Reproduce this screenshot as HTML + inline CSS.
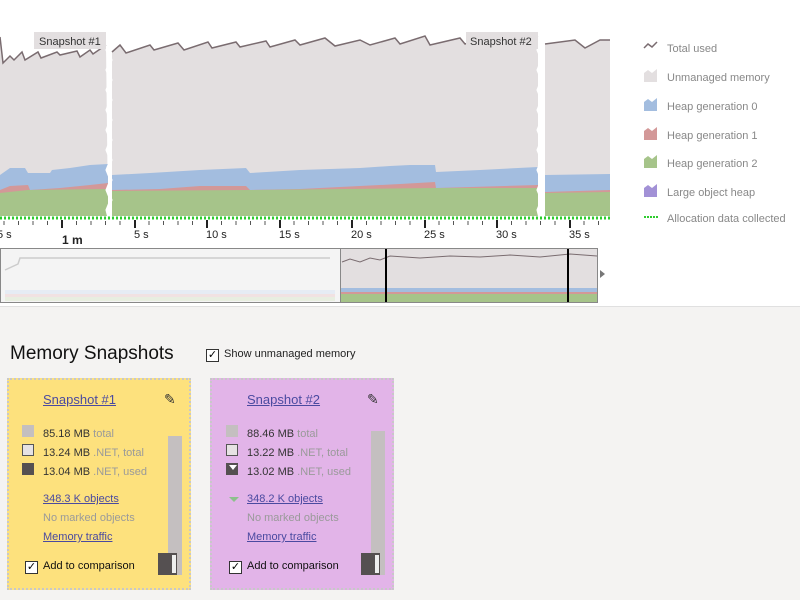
<!DOCTYPE html>
<html><head><meta charset="utf-8"><style>
body{margin:0;width:800px;height:599px;overflow:hidden;background:#fff;font-family:"Liberation Sans",sans-serif;position:relative}
.a{position:absolute;white-space:nowrap}
.card{position:absolute;top:378px;width:184px;height:212px;border:2px dotted #c8c8c8;box-sizing:border-box}
.lnk{color:#4a4aa0;text-decoration:underline}
.g{color:#9a9a9a}
.sq{position:absolute;width:12px;height:12px;box-sizing:border-box}
.cb{position:absolute;width:11px;height:11px;border:1px solid #333;background:#fff;font-size:11px;line-height:11px;text-align:center;color:#000}
</style></head><body>
<svg class="a" style="left:0;top:0" width="800" height="306">
<!-- total line area -->
<path d="M0,37 L3,63 L10,56 L14,60 L22,52 L25,60 L38,52 L41,58 L57,52 L60,55 L77,51 L80,57 L90,50 L93,54 L106,45 L108,216 L0,216Z" fill="#e3dfe0"/>
<path d="M112,52 L120,45 L126,53 L150,45 L154,50 L178,43 L184,50 L208,42 L212,48 L236,42 L240,47 L266,41 L270,47 L295,40 L300,45 L325,38 L335,46 L360,40 L370,45 L395,38 L400,44 L425,36 L430,45 L460,38 L465,44 L490,36 L495,41 L520,34 L538,37 L538,216 L112,216Z" fill="#e3dfe0"/>
<path d="M545,44 L575,40 L585,48 L600,40 L610,40 L610,216 L545,216Z" fill="#e3dfe0"/>
<path d="M0,175 L10,168 L25,168 L28,173 L50,173 L52,170 L70,168 L90,165 L108,164 L108,216 L0,216Z" fill="#a3bddf"/>
<path d="M112,175 L150,173 L200,170 L246,168 L250,173 L300,170 L360,168 L390,166 L410,165 L435,165 L436,172 L480,170 L538,167 L538,216 L112,216Z" fill="#a3bddf"/>
<path d="M545,175 L610,174 L610,216 L545,216Z" fill="#a3bddf"/>
<path d="M0,190 L10,186 L28,185 L30,190 L60,188 L90,185 L108,183 L108,216 L0,216Z" fill="#d39898"/>
<path d="M112,190 L160,189 L200,186 L246,186 L250,190 L300,189 L360,186 L400,184 L435,182 L436,188 L538,185 L538,216 L112,216Z" fill="#d39898"/>
<path d="M545,192 L610,190 L610,216 L545,216Z" fill="#d39898"/>
<path d="M0,193 L28,190 L108,189 L108,216 L0,216Z" fill="#a6c48a"/>
<path d="M112,191 L250,190 L435,188 L538,188 L538,216 L112,216Z" fill="#a6c48a"/>
<path d="M545,193 L610,192 L610,216 L545,216Z" fill="#a6c48a"/>
<g fill="none" stroke="#7a6c70" stroke-width="1.5">
<polyline points="0,37 3,63 10,56 14,60 22,52 25,60 38,52 41,58 57,52 60,55 77,51 80,57 90,50 93,54 106,45"/>
<polyline points="112,52 120,45 126,53 150,45 154,50 178,43 184,50 208,42 212,48 236,42 240,47 266,41 270,47 295,40 300,45 325,38 335,46 360,40 370,45 395,38 400,44 425,36 430,45 460,38 465,44 490,36 495,41 520,34 538,37"/>
<polyline points="545,44 575,40 585,48 600,40 610,40"/>
</g>
<g stroke="#fff" stroke-width="3" fill="none">
<polyline points="109,40 107,50 111,60 107,70 111,80 107,90 111,100 107,110 111,120 107,130 111,140 107,150 111,160 107,170 111,180 107,190 111,200 107,210 109,218"/>
<polyline points="540,40 538,50 542,60 538,70 542,80 538,90 542,100 538,110 542,120 538,130 542,140 538,150 542,160 538,170 542,180 538,190 542,200 538,210 540,218"/>
</g>
<rect x="34" y="32" width="72" height="17" fill="#e3dfe0"/>
<text x="39" y="45" font-size="11" fill="#333">Snapshot #1</text>
<rect x="466" y="32" width="72" height="17" fill="#e3dfe0"/>
<text x="470" y="45" font-size="11" fill="#333">Snapshot #2</text>
<line x1="0" y1="218" x2="610" y2="218" stroke="#2ecc2e" stroke-width="3" stroke-dasharray="2,2"/>
<g stroke="#555" stroke-width="1">
<path d="M4,221v4M18.5,221v4M33,221v4M47.5,221v4M76.5,221v4M91,221v4M105.5,221v4M120,221v4M134.5,221v4M149,221v4M163.5,221v4M178,221v4M192.5,221v4M207,221v4M221.5,221v4M236,221v4M250.5,221v4M265,221v4M279.5,221v4M294,221v4M308.5,221v4M323,221v4M337.5,221v4M352,221v4M366.5,221v4M381,221v4M395.5,221v4M410,221v4M424.5,221v4M439,221v4M453.5,221v4M468,221v4M482.5,221v4M497,221v4M511.5,221v4M526,221v4M540.5,221v4M555,221v4M569.5,221v4M584,221v4M598.5,221v4"/>
</g>
<g stroke="#222" stroke-width="2"><path d="M62,220v8M135,220v8M207,220v8M280,220v8M352,220v8M425,220v8M497,220v8M570,220v8"/></g>
<g font-size="11" fill="#222">
<text x="-3" y="238">5 s</text><text x="134" y="238">5 s</text><text x="206" y="238">10 s</text><text x="279" y="238">15 s</text><text x="351" y="238">20 s</text><text x="424" y="238">25 s</text><text x="496" y="238">30 s</text><text x="569" y="238">35 s</text>
<text x="62" y="244" font-size="12" font-weight="bold">1 m</text></g>
<!-- overview -->
<rect x="0.5" y="248.5" width="340" height="54" fill="#f4f4f4" stroke="#888"/>
<path d="M5,270 L18,264 L20,258 L330,258" stroke="#ccc" fill="none" stroke-width="1.5"/>
<rect x="5" y="290" width="330" height="4" fill="#e6ecf4"/><rect x="5" y="294" width="330" height="3" fill="#f1e2e2"/><rect x="5" y="297" width="330" height="4" fill="#e8eee0"/>
<rect x="340.5" y="248.5" width="257" height="54" fill="#e3dfe0" stroke="#888"/>
<polyline points="342,262 350,259 360,262 370,258 380,260 390,256 420,258 450,256 480,257 510,255 540,257 570,254 597,256" stroke="#7a6c70" fill="none"/>
<rect x="341" y="288" width="256" height="5" fill="#a3bddf"/><rect x="341" y="292" width="256" height="2" fill="#d39898"/><rect x="341" y="294" width="256" height="8" fill="#a6c48a"/>
<line x1="386" y1="249" x2="386" y2="302" stroke="#000" stroke-width="2"/>
<line x1="568" y1="249" x2="568" y2="302" stroke="#000" stroke-width="2"/>
<polygon points="600,270 605,274 600,278" fill="#777"/>
<!-- legend -->
<polyline points="644,48 648,44 652,47 657,42" stroke="#7a6c70" fill="none" stroke-width="1.5"/>
<path d="M644,82 v-9 l4,-3 l4,3 l5,-4 v13z" fill="#e3dfe0"/>
<path d="M644,111 v-9 l4,-3 l4,3 l5,-4 v13z" fill="#a3bddf"/>
<path d="M644,140 v-9 l4,-3 l4,3 l5,-4 v13z" fill="#d39898"/>
<path d="M644,168 v-9 l4,-3 l4,3 l5,-4 v13z" fill="#a6c48a"/>
<path d="M644,197 v-9 l4,-3 l4,3 l5,-4 v13z" fill="#a291d6"/>
<line x1="644" y1="217" x2="658" y2="217" stroke="#2ecc2e" stroke-width="2" stroke-dasharray="2,1"/>
<g font-size="11" fill="#888"><text x="667" y="52">Total used</text><text x="667" y="81">Unmanaged memory</text><text x="667" y="110">Heap generation 0</text><text x="667" y="139">Heap generation 1</text><text x="667" y="167">Heap generation 2</text><text x="667" y="196">Large object heap</text><text x="667" y="222">Allocation data collected</text></g>
</svg>
<div class="a" style="left:0;top:306px;width:800px;height:293px;background:#f4f3f2;border-top:1px solid #e0e0e0"></div>
<div class="a" style="left:10px;top:343px;font-size:19px;color:#111">Memory Snapshots</div>
<div class="cb" style="left:206px;top:349px">✓</div>
<div class="a" style="left:224px;top:348px;font-size:11px;color:#222">Show unmanaged memory</div>

<div class="card" style="left:7px;background:#fde17d"></div>
<div class="card" style="left:210px;background:#e2b4e8"></div>

<!-- card 1 -->
<div class="a lnk" style="left:43px;top:392px;font-size:13px">Snapshot #1</div>
<div class="a" style="left:164px;top:391px;font-size:14px;color:#333">✎</div>
<div class="sq" style="left:22px;top:425px;background:#c4bfc0"></div>
<div class="sq" style="left:22px;top:444px;background:#e6e2e3;border:1px solid #555"></div>
<div class="sq" style="left:22px;top:463px;background:#555051"></div>
<div class="a" style="left:43px;top:425px;font-size:11px;line-height:19px;color:#333">85.18 MB <span class="g">total</span><br>13.24 MB <span class="g">.NET, total</span><br>13.04 MB <span class="g">.NET, used</span></div>
<div class="a lnk" style="left:43px;top:493px;font-size:11px">348.3 K objects</div>
<div class="a g" style="left:43px;top:512px;font-size:11px">No marked objects</div>
<div class="a lnk" style="left:43px;top:531px;font-size:11px">Memory traffic</div>
<div class="cb" style="left:25px;top:561px">✓</div>
<div class="a" style="left:43px;top:560px;font-size:11px;color:#111">Add to comparison</div>
<div class="a" style="left:168px;top:436px;width:14px;height:139px;background:#c4bfc0"></div>
<div class="a" style="left:158px;top:553px;width:19px;height:22px;background:#555051"></div>
<div class="a" style="left:172px;top:555px;width:4px;height:18px;background:#eee"></div>

<!-- card 2 -->
<div class="a lnk" style="left:247px;top:392px;font-size:13px">Snapshot #2</div>
<div class="a" style="left:367px;top:391px;font-size:14px;color:#333">✎</div>
<div class="sq" style="left:226px;top:425px;background:#c4bfc0"></div>
<div class="sq" style="left:226px;top:444px;background:#e6e2e3;border:1px solid #555"></div>
<div class="sq" style="left:226px;top:463px;background:#555051"></div>
<div class="a" style="left:229px;top:465px;width:0;height:0;border-left:4px solid transparent;border-right:4px solid transparent;border-top:5px solid #fff"></div>
<div class="a" style="left:247px;top:425px;font-size:11px;line-height:19px;color:#333">88.46 MB <span class="g">total</span><br>13.22 MB <span class="g">.NET, total</span><br>13.02 MB <span class="g">.NET, used</span></div>
<div class="a" style="left:229px;top:497px;width:0;height:0;border-left:5px solid transparent;border-right:5px solid transparent;border-top:5px solid #8cc08c"></div>
<div class="a lnk" style="left:247px;top:493px;font-size:11px">348.2 K objects</div>
<div class="a g" style="left:247px;top:512px;font-size:11px">No marked objects</div>
<div class="a lnk" style="left:247px;top:531px;font-size:11px">Memory traffic</div>
<div class="cb" style="left:229px;top:561px">✓</div>
<div class="a" style="left:247px;top:560px;font-size:11px;color:#111">Add to comparison</div>
<div class="a" style="left:371px;top:431px;width:14px;height:144px;background:#c4bfc0"></div>
<div class="a" style="left:361px;top:553px;width:19px;height:22px;background:#555051"></div>
<div class="a" style="left:375px;top:555px;width:4px;height:18px;background:#eee"></div>
</body></html>
